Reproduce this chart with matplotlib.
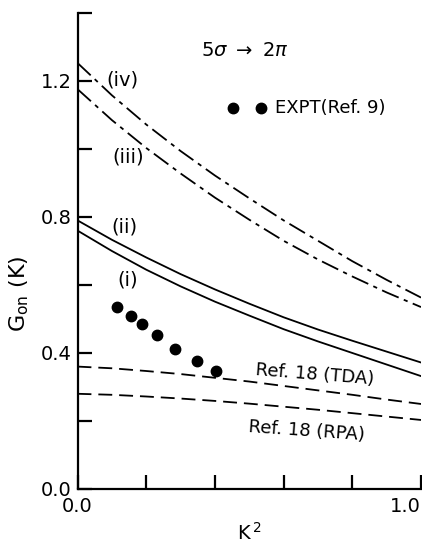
import matplotlib
matplotlib.use('Agg')
import matplotlib.pyplot as plt

plt.rcParams['font.family'] = ['DejaVu Sans']
plt.rcParams['lines.scale_dashes'] = False

# values
k2 = [0.0, 0.1, 0.2, 0.3, 0.4, 0.5, 0.6, 0.7, 0.8, 0.9, 1.0]
g_iv = [1.253, 1.158, 1.072, 0.994, 0.922, 0.855, 0.790, 0.730, 0.670, 0.615, 0.563]
g_iii = [1.176, 1.085, 1.003, 0.928, 0.857, 0.792, 0.730, 0.675, 0.625, 0.578, 0.535]
g_ii = [0.790, 0.733, 0.681, 0.632, 0.587, 0.545, 0.505, 0.469, 0.436, 0.404, 0.372]
g_i = [0.760, 0.700, 0.645, 0.596, 0.551, 0.510, 0.470, 0.434, 0.400, 0.366, 0.332]
g_tda = [0.360, 0.355, 0.347, 0.338, 0.327, 0.316, 0.303, 0.290, 0.277, 0.263, 0.250]
g_rpa = [0.280, 0.277, 0.272, 0.266, 0.259, 0.251, 0.242, 0.233, 0.223, 0.213, 0.203]

# experiment (Ref. 9)
expt_k2 = [0.115, 0.156, 0.189, 0.231, 0.285, 0.347, 0.404]
expt_g = [0.534, 0.509, 0.486, 0.453, 0.413, 0.376, 0.347]

fig = plt.figure(figsize=(4.22, 5.48), dpi=100)
ax = fig.add_axes([0.1837, 0.1077, 0.814, 0.8686])

dashdot = (0, (13, 4, 3, 4))
dashed = (0, (10, 5))
lw = 1.3
ax.plot(k2, g_iv, color='black', lw=lw, linestyle=dashdot)
ax.plot(k2, g_iii, color='black', lw=lw, linestyle=dashdot)
ax.plot(k2, g_ii, color='black', lw=lw)
ax.plot(k2, g_i, color='black', lw=lw)
ax.plot(k2, g_tda, color='black', lw=lw, linestyle=dashed)
ax.plot(k2, g_rpa, color='black', lw=lw, linestyle=dashed)
ax.plot(expt_k2, expt_g, 'o', color='black', ms=7.5, clip_on=False)

# curve labels
fs = 14
ax.text(0.132, 1.203, '(iv)', fontsize=fs, ha='center', va='center')
ax.text(0.148, 0.976, '(iii)', fontsize=fs, ha='center', va='center')
ax.text(0.137, 0.771, '(ii)', fontsize=fs, ha='center', va='center')
ax.text(0.146, 0.615, '(i)', fontsize=fs, ha='center', va='center')
ax.text(0.691, 0.335, 'Ref. 18 (TDA)', fontsize=13, ha='center', va='center', rotation=-4.5)
ax.text(0.667, 0.171, 'Ref. 18 (RPA)', fontsize=13, ha='center', va='center', rotation=-4)

ax.text(0.486, 1.291, r'5$\sigma$ $\rightarrow$ 2$\pi$', fontsize=14, ha='center', va='center')
ax.plot([0.453, 0.535], [1.121, 1.121], 'o', color='black', ms=7.5)
ax.text(0.575, 1.121, 'EXPT(Ref. 9)', fontsize=13, ha='left', va='center')

ax.set_xlim(0, 1.0)
ax.set_ylim(0, 1.4)
ax.spines['top'].set_visible(False)
ax.spines['right'].set_visible(False)
ax.spines['left'].set_linewidth(1.6)
ax.spines['bottom'].set_linewidth(1.6)

ax.set_xticks([0.0, 0.2, 0.4, 0.6, 0.8, 1.0])
ax.set_xticklabels(['0.0', '', '', '', '', '1.0'])
ax.set_yticks([0.0, 0.2, 0.4, 0.6, 0.8, 1.0, 1.2, 1.4])
ax.set_yticklabels(['0.0', '', '0.4', '', '0.8', '', '1.2', ''])
ax.tick_params(direction='in', length=10, width=1.6, labelsize=14)
ax.tick_params(axis='x', pad=6)
ax.tick_params(axis='y', pad=4)
ax.get_xticklabels()[-1].set_horizontalalignment('right')

ax.set_xlabel(r'K$^{\,2}$', fontsize=14, labelpad=4)
ax.set_ylabel(r'G$_{\rm on}$ (K)', fontsize=16)
ax.yaxis.set_label_coords(-0.135, 0.41)

fig.savefig('out.png', dpi=100)
